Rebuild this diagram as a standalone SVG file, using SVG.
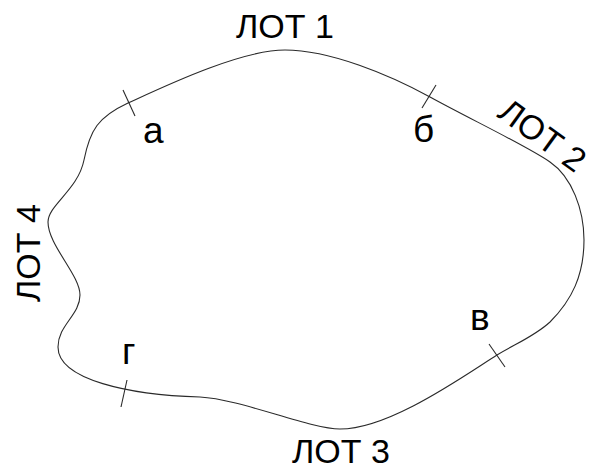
<svg xmlns="http://www.w3.org/2000/svg" width="592" height="470" viewBox="0 0 592 470">
  <style>
    .edge { fill: none; stroke: #2a2a2a; stroke-width: 1.1; }
    .tick { stroke: #2a2a2a; stroke-width: 1.1; }
    .lot { font-family: "Liberation Sans", Arial, sans-serif; font-size: 34px; fill: #000; }
    .pt { font-family: "Liberation Sans", Arial, sans-serif; font-size: 37px; fill: #000; }
  </style>
  <rect width="592" height="470" fill="#fff"/>

  <!-- boundary of the plot -->
  <g id="boundary">
    <path class="edge" d="M128,103 C163,87 240,50 285,50 C330,50 390,75 430,97 C470,119 525,145 550,162 C572,177 584,210 584,240 C584,275 572,300 550,322 C535,336 515,344 497,355 C465,375 390,429 340,429 C310,429 240,399 200,397 C130,395 58,380 58,347 C58,325 80,315 80,295 C80,275 48,245 48,222 C48,205 78,190 84,160 C90,130 98,117 128,103 Z"/>
  </g>

  <!-- division points -->
  <g id="point-a">
    <line class="tick" x1="123" y1="90" x2="135" y2="116"/>
    <text class="pt" x="143" y="143">а</text>
  </g>
  <g id="point-b">
    <line class="tick" x1="436" y1="85" x2="422" y2="108"/>
    <text class="pt" x="413" y="142">б</text>
  </g>
  <g id="point-v">
    <line class="tick" x1="489" y1="344" x2="505" y2="367"/>
    <text class="pt" x="470" y="330">в</text>
  </g>
  <g id="point-g">
    <line class="tick" x1="127" y1="380" x2="121" y2="407"/>
    <text class="pt" x="122" y="364">г</text>
  </g>

  <!-- lot labels -->
  <g id="lot-1"><text class="lot" x="236" y="38">ЛОТ 1</text></g>
  <g id="lot-2"><text class="lot" transform="translate(496,116) rotate(36)">ЛОТ 2</text></g>
  <g id="lot-3"><text class="lot" x="292" y="463">ЛОТ 3</text></g>
  <g id="lot-4"><text class="lot" transform="translate(40,302) rotate(-90)">ЛОТ 4</text></g>
</svg>
